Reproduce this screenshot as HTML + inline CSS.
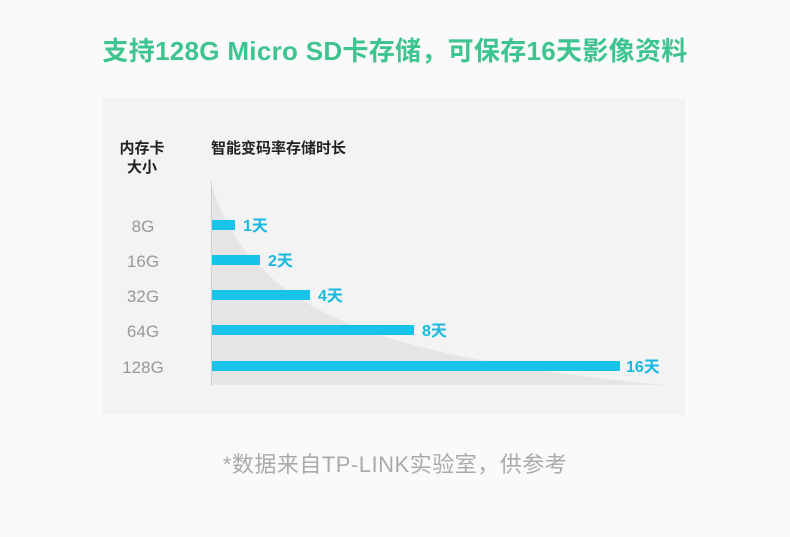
<!DOCTYPE html>
<html><head><meta charset="utf-8"><style>
body{margin:0;width:790px;height:537px;background:#fafafa;font-family:"Liberation Sans","Noto Sans CJK SC",sans-serif;position:relative;overflow:hidden}
.t{position:absolute;white-space:nowrap}
</style></head><body>
<div class="t" style="left:0;width:790px;text-align:center;top:31px;font-size:26px;font-weight:bold;color:#3ec48e;letter-spacing:0.3px">支持128G Micro SD卡存储，可保存16天影像资料</div>
<svg style="position:absolute;left:0;top:0" width="790" height="537">
<rect x="103" y="98" width="582" height="317" fill="#f3f3f3"/>
<path d="M211 182 Q240 290 380 335 Q480 368 665 385 L211 385 Z" fill="#e5e5e5"/>
<line x1="211.5" y1="181" x2="211.5" y2="386" stroke="#d0d0d0" stroke-width="1"/>
<g fill="#17c3e8">
<rect x="212" y="220" width="23" height="10"/>
<rect x="212" y="255" width="48" height="10"/>
<rect x="212" y="290" width="98" height="10"/>
<rect x="212" y="325" width="202" height="10"/>
<rect x="212" y="361" width="408" height="10"/>
</g>
<g font-family="Liberation Sans, Noto Sans CJK SC, sans-serif" font-size="16" fill="#17b9e0" font-weight="bold">
<text x="243" y="231">1天</text><text x="268" y="266">2天</text><text x="318" y="301">4天</text><text x="422" y="336">8天</text><text x="626" y="372">16天</text>
</g>
<g font-family="Liberation Sans, Noto Sans CJK SC, sans-serif" font-size="17" fill="#999" text-anchor="middle">
<text x="143" y="232">8G</text><text x="143" y="267">16G</text><text x="143" y="302">32G</text><text x="143" y="337">64G</text><text x="143" y="373">128G</text>
</g>
<g font-family="Liberation Sans, Noto Sans CJK SC, sans-serif" font-size="15" fill="#222" font-weight="bold">
<text x="142" y="153" text-anchor="middle">内存卡</text><text x="142" y="172" text-anchor="middle">大小</text>
<text x="211" y="153">智能变码率存储时长</text>
</g>
</svg>
<div class="t" style="left:0;width:790px;text-align:center;top:447px;font-size:22px;color:#aaa;letter-spacing:0.5px">*数据来自TP-LINK实验室，供参考</div>
</body></html>
